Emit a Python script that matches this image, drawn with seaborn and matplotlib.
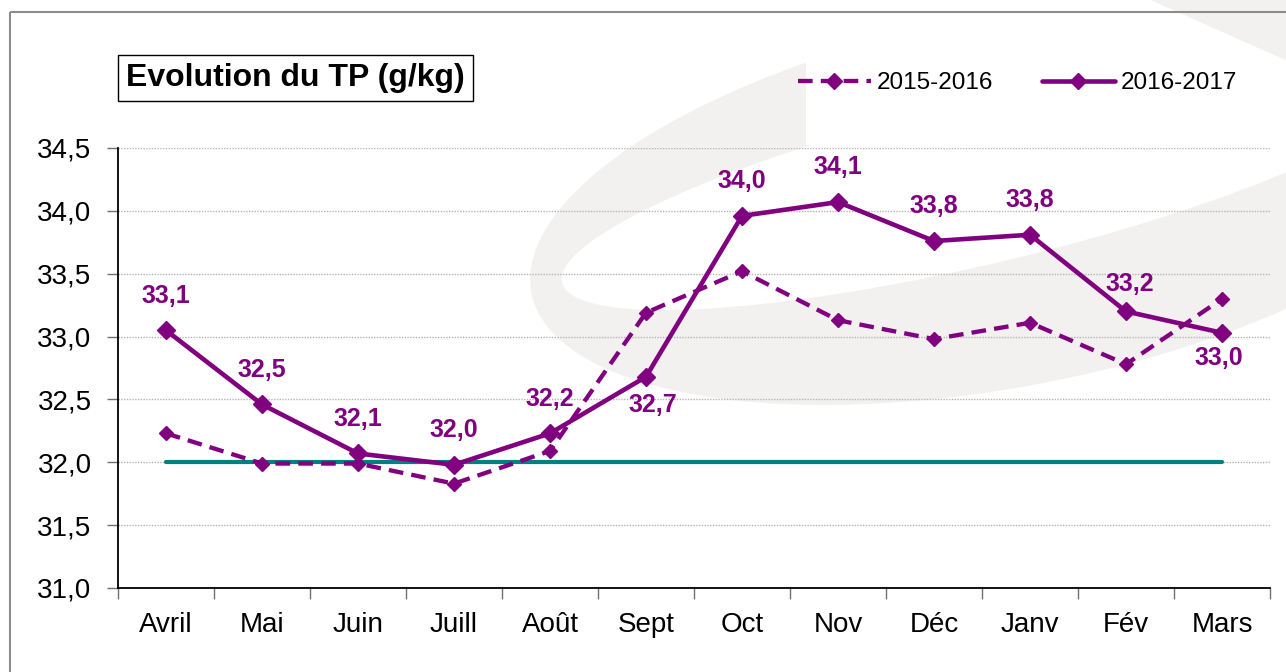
import numpy as np
import pandas as pd
import matplotlib
matplotlib.use("Agg")
import matplotlib.pyplot as plt
import seaborn as sns
from matplotlib.patches import Ellipse, Rectangle, Polygon
from matplotlib.lines import Line2D

# ---------------- data ----------------
months = ["Avril", "Mai", "Juin", "Juill", "Août", "Sept", "Oct", "Nov",
          "Déc", "Janv", "Fév", "Mars"]
tp_2015_2016 = [32.23, 31.99, 31.99, 31.83, 32.09, 33.19, 33.52, 33.13,
                32.98, 33.11, 32.78, 33.30]
tp_2016_2017 = [33.05, 32.46, 32.07, 31.98, 32.23, 32.68, 33.96, 34.07,
                33.76, 33.81, 33.20, 33.03]
objectif = [32.0] * 12
labels_2016_2017 = ["33,1", "32,5", "32,1", "32,0", "32,2", "32,7", "34,0",
                    "34,1", "33,8", "33,8", "33,2", "33,0"]
y_ticks = [31.0, 31.5, 32.0, 32.5, 33.0, 33.5, 34.0, 34.5]
title = "Evolution du TP (g/kg)"
series_names = ["2015-2016", "2016-2017"]

# ---------------- style ----------------
sns.set_theme(style="white")
plt.rcParams["font.family"] = ["Liberation Sans", "DejaVu Sans"]
plt.rcParams["text.color"] = "black"

PURPLE = "#800080"
TEAL = "#008080"
SWOOSH = "#f2f1ef"
DASH = (0, (3.4, 1.9))
W, H = 1286, 672

fig = plt.figure(figsize=(W / 100, H / 100), dpi=100)
fig.patch.set_facecolor("white")

# background decoration (faint swoosh) + frame, in pixel coordinates
bg = fig.add_axes([0, 0, 1, 1], zorder=0)
bg.set_xlim(0, W)
bg.set_ylim(H, 0)
bg.axis("off")
bg.add_patch(Ellipse((1010, 200), 975, 372, angle=-11, facecolor=SWOOSH,
                     edgecolor="none"))
bg.add_patch(Ellipse((990, 180), 880, 164, angle=-13.5, facecolor="white",
                     edgecolor="none"))
bg.add_patch(Polygon([(806, -5), (1140, -5), (1290, 62), (1290, 145),
                      (806, 145)], closed=True, facecolor="white",
                     edgecolor="none"))
bg.add_patch(Polygon([(1140, -5), (1290, -5), (1290, 62)], closed=True,
                     facecolor=SWOOSH, edgecolor="none"))
bg.add_patch(Rectangle((10, 12), W + 20, H + 20, facecolor="none",
                       edgecolor="#8c8c8c", linewidth=1.5))

# main axes
ax = fig.add_axes([118 / W, 1 - 588 / H, (1270 - 118) / W, (588 - 148) / H],
                  zorder=1)
ax.patch.set_alpha(0)

x = np.arange(len(months))
df = pd.DataFrame({"x": x, "a": tp_2015_2016, "b": tp_2016_2017,
                   "obj": objectif})

sns.lineplot(data=df, x="x", y="obj", ax=ax, color=TEAL, linewidth=3.0,
             zorder=2, solid_capstyle="round")
sns.lineplot(data=df, x="x", y="a", ax=ax, color=PURPLE, linewidth=3.1,
             linestyle=DASH, marker="D", markersize=7,
             markeredgecolor=PURPLE, markeredgewidth=1, zorder=3)
sns.lineplot(data=df, x="x", y="b", ax=ax, color=PURPLE, linewidth=3.3,
             marker="D", markersize=9, markeredgecolor=PURPLE,
             markeredgewidth=1, zorder=4)

offsets = {"32,7": (5, -20), "33,0": (-2, -18), "33,2": (3, 20)}
for xi, yi, lab in zip(x, tp_2016_2017, labels_2016_2017):
    dx, dy = offsets.get(lab, (0, 25))
    ax.annotate(lab, (xi, yi), xytext=(dx, dy), textcoords="offset points",
                ha="center", va="center", fontsize=18, fontweight="bold",
                color=PURPLE, zorder=5)

ax.set_xlim(-0.5, len(months) - 0.5)
ax.set_ylim(31.0, 34.5)
ax.set_yticks(y_ticks)
ax.set_yticklabels([f"{v:.1f}".replace(".", ",") for v in y_ticks])
ax.set_xticks(np.arange(-0.5, len(months), 1.0))
ax.set_xticklabels([])
ax.set_xticks(x, minor=True)
ax.set_xticklabels(months, minor=True)
ax.tick_params(axis="x", which="major", length=8, width=1, color="#707070",
               direction="out", bottom=True)
ax.tick_params(axis="x", which="minor", length=0, pad=17, labelsize=20,
               labelcolor="black")
ax.tick_params(axis="y", length=8, width=1, color="#707070", direction="out",
               left=True, pad=11, labelsize=20, labelcolor="black")
ax.grid(axis="y", color="#b5b5b5", linestyle=(0, (1, 1)), linewidth=1)
ax.set_axisbelow(True)
for s in ["top", "right"]:
    ax.spines[s].set_visible(False)
for s in ["left", "bottom"]:
    ax.spines[s].set_color("black")
    ax.spines[s].set_linewidth(1.3)
ax.set_xlabel("")
ax.set_ylabel("")
if ax.get_legend():
    ax.get_legend().remove()

# title box
fig.text(126 / W, 1 - 78 / H, title, fontsize=23, fontweight="bold",
         ha="left", va="center", color="black",
         bbox=dict(boxstyle="square,pad=0.25", facecolor="white",
                   edgecolor="black", linewidth=1))

# legend
handles = [
    Line2D([], [], color=PURPLE, linewidth=3.1, linestyle=DASH,
           marker="D", markersize=8),
    Line2D([], [], color=PURPLE, linewidth=3.3, marker="D", markersize=8),
]
leg = fig.legend(handles, series_names, loc="center left",
                 bbox_to_anchor=(798 / W, 1 - 83 / H), ncol=2,
                 frameon=False, fontsize=17.5, handlelength=3.0,
                 handletextpad=0.25, columnspacing=2.0, borderpad=0,
                 borderaxespad=0)
for t in leg.get_texts():
    t.set_color("black")

fig.savefig("out.png", dpi=100, facecolor="white")
